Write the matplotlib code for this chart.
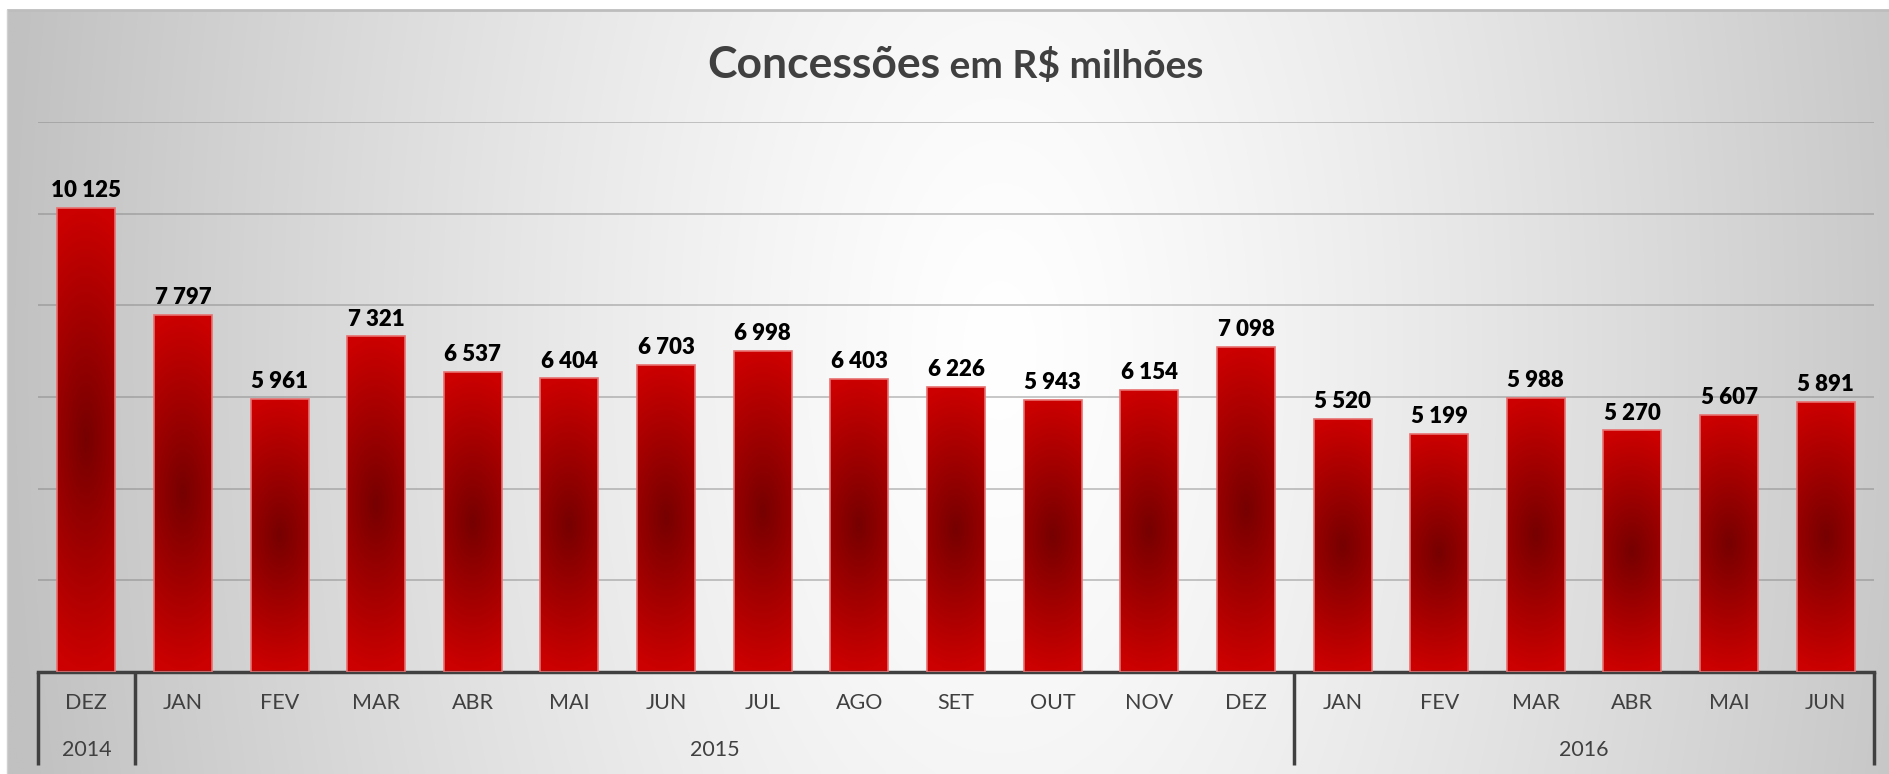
import matplotlib.pyplot as plt
import matplotlib.transforms as mtransforms
import numpy as np

months = ['DEZ', 'JAN', 'FEV', 'MAR', 'ABR', 'MAI', 'JUN', 'JUL', 'AGO', 'SET',
          'OUT', 'NOV', 'DEZ', 'JAN', 'FEV', 'MAR', 'ABR', 'MAI', 'JUN']
years = ['2014', '2015', '2016']
months_per_year = [1, 12, 6]
concessoes = [10125, 7797, 5961, 7321, 6537, 6404, 6703, 6998, 6403, 6226,
              5943, 6154, 7098, 5520, 5199, 5988, 5270, 5607, 5891]

W, H = 1889, 774
TEXT = '#404040'


def background(fig):
    # radial grey -> white -> grey fill behind the whole chart area
    bg = fig.add_axes([0, 0, 1, 1], zorder=-5)
    bg.set_xlim(0, W)
    bg.set_ylim(H, 0)
    bg.axis('off')
    xx, yy = np.meshgrid(np.linspace(8, W, 400), np.linspace(10, H, 160))
    d = np.sqrt(((xx - 1000) / 1000) ** 2 + ((yy - 350) / 1900) ** 2)
    g = 255 - 62 * np.clip(d, 0, 1) ** 1.25
    img = np.dstack([g, g, g]) / 255
    bg.imshow(img, extent=[8, W, H, 10], aspect='auto', interpolation='bilinear')
    bg.plot([8, W], [10, 10], color='#bdbdbd', lw=2)
    bg.plot([7, 7], [10, H], color='#d0d0d0', lw=1)


def gradient_bar(ax, patch):
    x0, y0 = patch.get_x(), patch.get_y()
    w, h = patch.get_width(), patch.get_height()
    tx, ty = np.meshgrid(np.linspace(-1, 1, 40), np.linspace(-1, 1, 200))
    d = np.clip(np.sqrt(0.15 * tx ** 2 + ty ** 2), 0, 1)
    r = (0x76 + (0xcc - 0x76) * d) / 255
    img = np.dstack([r, np.zeros_like(r), np.zeros_like(r)])
    im = ax.imshow(img, extent=[x0, x0 + w, y0, y0 + h], origin='lower',
                   aspect='auto', interpolation='bilinear', zorder=2)
    im.set_clip_path(patch)


def main():
    plt.rcParams['font.family'] = ['Lato', 'DejaVu Sans']
    fig = plt.figure(figsize=(W / 100, H / 100), dpi=100)
    fig.patch.set_facecolor('white')
    background(fig)

    ax = fig.add_axes([38 / W, 1 - 672 / H, 1836 / W, 550 / H])
    ax.patch.set_alpha(0)
    x = np.arange(len(concessoes))
    bars = ax.bar(x, concessoes, width=0.6, facecolor='none',
                  edgecolor='#e87070', linewidth=1.2, zorder=3)
    for b in bars:
        gradient_bar(ax, b)

    for xi, v in zip(x, concessoes):
        ax.annotate(f'{v:,}'.replace(',', ' '), (xi, v), xytext=(0, 5),
                    textcoords='offset points', ha='center', va='bottom',
                    fontsize=16, fontweight='heavy', color='black')

    ax.set_xlim(-0.5, len(concessoes) - 0.5)
    ax.set_ylim(0, 12000)
    ax.set_yticks(range(2000, 12001, 2000))
    ax.tick_params(left=False, labelleft=False, bottom=False, labelbottom=False)
    ax.yaxis.grid(True, color='#7f7f7f', alpha=0.5, lw=1.2)
    ax.set_axisbelow(True)
    for s in ['top', 'right', 'left']:
        ax.spines[s].set_visible(False)
    ax.spines['bottom'].set_color(TEXT)
    ax.spines['bottom'].set_linewidth(2.5)

    # two-level category axis
    trans = mtransforms.blended_transform_factory(ax.transData, ax.transAxes)
    for xi, m in zip(x, months):
        ax.text(xi, -31 / 550, m, transform=trans, ha='center', va='center',
                fontsize=15.5, color=TEXT)
    start = 0
    edges = [-0.5]
    for yr, n in zip(years, months_per_year):
        mid = start + (n - 1) / 2
        ax.text(mid, -78 / 550, yr, transform=trans, ha='center', va='center',
                fontsize=15.5, color=TEXT)
        start += n
        edges.append(start - 0.5)
    for e in edges:
        ax.plot([e, e], [0, -93 / 550], transform=trans, color=TEXT, lw=2.5,
                clip_on=False, solid_capstyle='butt')

    fig.text(940 / W, 1 - 78 / H, 'Concessões', fontsize=32, fontweight='bold',
             color=TEXT, ha='right', va='baseline')
    fig.text(940 / W, 1 - 78 / H, ' em R$ milhões', fontsize=28, fontweight='bold',
             color=TEXT, ha='left', va='baseline')

    fig.savefig('out.png', dpi=100)


if __name__ == '__main__':
    main()
